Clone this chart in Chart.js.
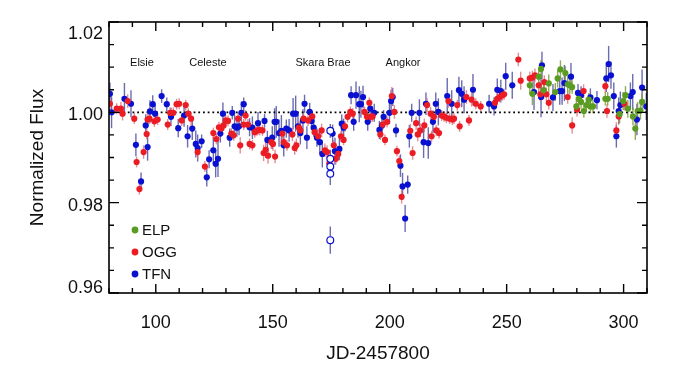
<!DOCTYPE html>
<html>
<head>
<meta charset="utf-8">
<script src="https://cdn.jsdelivr.net/npm/chart.js@4.4.1/dist/chart.umd.min.js"></script>
<style>
  html, body { margin: 0; padding: 0; background: #fff; }
  #wrap { width: 700px; height: 379px; }
</style>
</head>
<body>
<div id="wrap"><canvas id="chart" width="700" height="379"></canvas></div>
<script>
// each point: [JD-2457800, normalized flux, 1-sigma error]
const tfnPoints = [
  [80.4,1.0041,0.0025],[81.1,1.0000,0.0035],[86.6,1.0030,0.0035],[89.4,1.0019,0.003],[91.5,0.9928,0.0025],
  [93.7,0.9847,0.002],[95.7,0.9971,0.0025],[96.5,0.9923,0.003],[97.5,1.0002,0.0025],[98.7,1.0018,0.002],
  [99.7,0.9997,0.002],[102.5,1.0036,0.0015],[104.7,1.0018,0.0015],[106.5,0.9990,0.002],[109.6,0.9965,0.002],
  [112.1,0.9993,0.0025],[113.6,0.9947,0.0025],[115.6,0.9964,0.0025],[117.1,0.9930,0.003],[117.9,0.9921,0.003],
  [119.6,0.9936,0.0015],[121.8,0.9856,0.002],[122.8,0.9896,0.002],[124.6,0.9916,0.003],[125.6,0.9886,0.003],
  [126.6,0.9897,0.004],[127.6,0.9953,0.002],[128.7,0.9997,0.0025],[131.6,0.9944,0.002],[132.7,0.9999,0.0015],
  [133.7,0.9969,0.0025],[134.7,0.9966,0.002],[135.6,0.9969,0.002],[136.6,0.9999,0.0025],[137.6,1.0018,0.0015],
  [140.1,0.9967,0.002],[141.3,0.9966,0.0025],[143.7,0.9976,0.0025],[146.5,0.9981,0.0015],[147.7,0.9939,0.002],
  [149.8,0.9944,0.0025],[150.8,0.9979,0.003],[151.5,0.9979,0.0035],[152.7,0.9954,0.003],[153.7,0.9959,0.0035],
  [154.7,0.9927,0.0025],[155.8,0.9964,0.002],[157.0,0.9960,0.0025],[158.7,0.9997,0.0035],[159.8,0.9997,0.004],
  [160.8,0.9969,0.0025],[161.8,0.9954,0.0025],[162.9,0.9982,0.0025],[163.6,1.0019,0.002],[164.6,0.9944,0.0025],
  [165.8,1.0001,0.002],[166.6,0.9981,0.0015],[167.5,0.9966,0.002],[168.9,0.9944,0.002],[170.1,0.9934,0.0025],
  [171.2,0.9908,0.003],[175.6,0.9953,0.002],[176.6,0.9914,0.003],[178.5,0.9919,0.0025],[179.5,0.9975,0.002],
  [180.3,0.9966,0.002],[183.5,1.0038,0.002],[184.6,0.9979,0.002],[185.6,1.0038,0.003],[187.0,1.0018,0.004],
  [187.7,1.0018,0.003],[188.6,1.0034,0.0025],[190.6,0.9979,0.002],[191.7,1.0008,0.002],[193.4,0.9999,0.002],
  [195.6,0.9961,0.002],[196.7,0.9971,0.0015],[197.4,0.9990,0.0015],[199.9,0.9999,0.0025],[200.6,1.0025,0.0025],
  [201.3,1.0034,0.002],[202.7,0.9960,0.0015],[204.6,0.9882,0.0025],[205.5,0.9836,0.003],[206.6,0.9765,0.003],
  [207.7,0.9840,0.002],[208.4,0.9947,0.0025],[209.4,0.9999,0.002],[212.7,0.9999,0.003],[214.5,0.9934,0.0035],
  [215.5,1.0019,0.0025],[216.5,0.9932,0.0035],[218.5,0.9979,0.0025],[219.7,1.0019,0.0025],[220.8,1.0001,0.003],
  [224.6,1.0036,0.004],[226.5,1.0019,0.003],[229.6,1.0049,0.003],[230.8,1.0041,0.003],[231.8,1.0028,0.003],
  [235.6,1.0050,0.0035],[242.5,1.0019,0.002],[244.6,1.0013,0.002],[246.0,1.0050,0.0025],[247.5,1.0047,0.0025],
  [249.6,1.0080,0.003],[252.4,1.0060,0.003],[261.7,1.0045,0.004],[264.7,1.0034,0.0045],[265.1,1.0104,0.003],
  [269.8,1.0033,0.003],[272.7,1.0047,0.003],[273.7,1.0047,0.003],[274.7,1.0065,0.004],[277.5,1.0079,0.003],
  [280.5,1.0043,0.002],[281.8,1.0038,0.002],[285.8,1.0033,0.002],[288.6,1.0027,0.002],[292.6,1.0075,0.003],
  [293.6,1.0107,0.004],[294.6,1.0082,0.003],[295.8,1.0036,0.003],[296.9,0.9947,0.0025],[297.9,1.0003,0.003],
  [298.6,1.0016,0.003],[302.9,1.0036,0.003],[303.9,1.0045,0.004],[305.7,0.9984,0.0035],[307.9,1.0055,0.004],
  [309.7,1.0013,0.003]
];

// TFN points drawn as open circles (Skara Brae dip)
const tfnOpenPoints = [
  [174.6,0.9959,0.0015],[174.6,0.9897,0.002],[174.6,0.9880,0.002],[174.6,0.9864,0.0025],[174.6,0.9717,0.003]
];

const oggPoints = [
  [80.4,1.0019,0.0015],[83.3,1.0008,0.0012],[85.1,1.0008,0.0015],[85.8,0.9997,0.0015],[88.0,1.0025,0.0015],
  [90.8,0.9986,0.0012],[91.8,0.9890,0.0012],[93.0,0.9830,0.0012],[94.8,0.9912,0.0015],[96.1,0.9952,0.0012],
  [96.5,0.9984,0.0012],[97.3,0.9986,0.0012],[99.4,0.9980,0.0012],[100.8,0.9984,0.0012],[105.1,0.9973,0.0012],
  [106.1,0.9999,0.0012],[107.5,0.9999,0.0012],[108.9,1.0018,0.0012],[110.0,1.0019,0.0012],[111.1,0.9982,0.0012],
  [112.8,1.0016,0.0012],[113.9,0.9997,0.0012],[115.1,0.9986,0.0015],[117.9,0.9912,0.0015],[121.0,0.9880,0.0012],
  [124.6,0.9954,0.0012],[125.9,0.9941,0.0012],[127.0,0.9967,0.0012],[128.0,0.9964,0.0012],[129.0,0.9971,0.0012],
  [129.9,0.9982,0.0012],[130.9,0.9981,0.0012],[132.3,0.9953,0.0012],[133.3,0.9949,0.0012],[135.2,0.9986,0.0012],
  [136.1,0.9927,0.0018],[137.6,0.9973,0.0012],[138.4,0.9993,0.0012],[139.4,0.9973,0.0012],[140.1,0.9930,0.0012],
  [141.3,0.9927,0.0012],[142.3,0.9956,0.0012],[143.3,0.9960,0.0012],[144.4,0.9961,0.0012],[145.6,0.9960,0.0012],
  [146.1,0.9910,0.0018],[147.0,0.9917,0.0018],[148.0,0.9904,0.0018],[149.4,0.9934,0.0015],[150.1,0.9930,0.0015],
  [151.0,0.9902,0.0015],[154.1,0.9953,0.0012],[154.7,0.9934,0.0012],[156.1,0.9927,0.0012],[158.4,0.9951,0.0015],
  [159.4,0.9921,0.0015],[160.1,0.9927,0.0015],[161.2,0.9966,0.0015],[161.8,0.9960,0.0015],[163.2,0.9986,0.0012],
  [165.1,0.9982,0.0012],[166.9,0.9991,0.0012],[167.9,0.9956,0.0012],[169.4,0.9947,0.0012],[170.9,0.9960,0.0015],
  [172.3,0.9916,0.0015],[173.2,0.9912,0.0015],[174.2,0.9887,0.0015],[176.1,0.9927,0.0012],[177.0,0.9897,0.0012],
  [178.0,0.9908,0.0012],[179.2,0.9947,0.0012],[180.3,0.9939,0.0012],[180.9,0.9969,0.0012],[182.0,0.9990,0.0012],
  [183.2,1.0001,0.0012],[184.2,0.9997,0.0012],[189.2,1.0001,0.0012],[190.3,0.9990,0.0012],[191.3,1.0021,0.0012],
  [192.0,0.9990,0.0012],[192.7,0.9991,0.0012],[196.0,0.9951,0.0012],[197.0,0.9973,0.0012],[198.0,0.9939,0.0012],
  [198.9,0.9979,0.0012],[200.9,1.0036,0.002],[202.0,1.0001,0.0015],[203.1,0.9914,0.0012],[204.1,0.9892,0.0012],
  [205.1,0.9813,0.0015],[208.8,0.9959,0.0015],[209.8,0.9910,0.0015],[211.3,0.9976,0.0015],[212.0,0.9951,0.0015],
  [213.1,0.9960,0.0015],[214.8,0.9971,0.0015],[216.0,1.0016,0.0015],[217.5,0.9997,0.0015],[217.9,0.9947,0.0012],
  [218.9,0.9990,0.0012],[219.9,0.9960,0.0012],[221.1,0.9954,0.0012],[222.2,0.9993,0.0012],[223.2,0.9991,0.0012],
  [224.2,0.9988,0.0012],[225.1,1.0025,0.0015],[225.6,0.9986,0.0012],[226.8,0.9984,0.0012],[227.5,0.9986,0.0012],
  [228.9,1.0016,0.0012],[229.9,0.9969,0.0012],[232.8,1.0034,0.0015],[233.9,0.9982,0.0012],[235.0,1.0028,0.0015],
  [236.8,1.0019,0.0012],[238.9,1.0013,0.0012],[245.0,1.0021,0.0012],[246.0,1.0030,0.0012],[247.0,1.0034,0.0012],
  [248.2,1.0038,0.0012],[248.9,1.0040,0.0012],[255.0,1.0117,0.0015],[256.0,1.0070,0.002],[259.9,1.0075,0.0015],
  [261.0,1.0077,0.0015],[262.1,1.0082,0.0015],[263.7,1.0060,0.0015],[264.4,1.0040,0.0015],[266.1,1.0067,0.0015],
  [267.0,1.0040,0.0015],[268.0,1.0021,0.0015],[276.1,1.0034,0.0015],[278.0,0.9971,0.0018],[280.1,1.0006,0.0015],
  [282.9,1.0047,0.0015],[292.2,1.0058,0.0015],[292.9,1.0003,0.0015],[296.9,0.9960,0.0018],[297.9,0.9991,0.0015],
  [300.3,1.0019,0.0015]
];

const elpPoints = [
  [259.9,1.0060,0.002],[261.0,1.0041,0.0025],[263.7,1.0079,0.002],[264.7,1.0096,0.002],[265.8,1.0049,0.002],
  [268.0,1.0064,0.002],[270.8,1.0045,0.002],[271.8,1.0075,0.002],[273.0,1.0095,0.002],[275.1,1.0087,0.0015],
  [276.1,1.0062,0.002],[277.0,1.0060,0.002],[278.0,1.0056,0.0015],[279.8,1.0013,0.0015],[280.8,1.0030,0.0015],
  [281.8,1.0023,0.0015],[283.0,1.0003,0.0015],[284.1,1.0016,0.0015],[285.1,1.0028,0.0015],[285.8,1.0013,0.0015],
  [286.9,1.0013,0.0015],[292.2,1.0030,0.0015],[293.2,1.0030,0.0015],[298.3,0.9996,0.002],[299.8,1.0025,0.002],
  [300.8,1.0038,0.002],[301.8,1.0008,0.002],[304.0,0.9991,0.002],[305.0,0.9964,0.0025],[306.0,1.0003,0.002],
  [307.2,1.0004,0.002],[307.9,1.0023,0.002]
];

const siteNames = ['ELP', 'OGG', 'TFN'];
const siteColors = ['#5a9c22', '#ec1c24', '#0a10d0'];
const barColors = ['rgba(130,155,60,0.85)', 'rgba(225,110,120,0.8)', 'rgba(70,70,160,0.8)'];

const dipNames = ['Elsie', 'Celeste', 'Skara Brae', 'Angkor'];
const dipX = [94.1, 122.3, 171.5, 205.7];

const xMin = 80, xMax = 310, xStep = 10, xLabelEvery = 50;
const yMin = 0.96, yMax = 1.02, yStep = 0.005;
const baselineFlux = 1.0;

const FONT = '"Liberation Sans", Arial, Helvetica, sans-serif';
const TEXT = '#111';

const toXY = pts => pts.map(p => ({ x: p[0], y: p[1], err: p[2] }));
const isMajorY = v => Math.round(v * 1000) % 20 === 0;

// vertical error bars, under every marker
const errorBarPlugin = {
  id: 'errorBars',
  beforeDatasetsDraw(chart) {
    const ctx = chart.ctx;
    const ys = chart.scales.y;
    const a = chart.chartArea;
    ctx.save();
    ctx.beginPath();
    ctx.rect(a.left, a.top, a.right - a.left, a.bottom - a.top);
    ctx.clip();
    ctx.lineWidth = 1.4;
    chart.data.datasets.forEach((ds, i) => {
      if (!ds.barColor) return;
      const meta = chart.getDatasetMeta(i);
      ctx.strokeStyle = ds.barColor;
      meta.data.forEach((el, j) => {
        const d = ds.data[j];
        ctx.beginPath();
        ctx.moveTo(el.x, ys.getPixelForValue(d.y + d.err));
        ctx.lineTo(el.x, ys.getPixelForValue(d.y - d.err));
        ctx.stroke();
      });
    });
    ctx.restore();
  }
};

// box with inward ticks on all four sides, y labels kept inside the box height,
// dip names and the legend
const framePlugin = {
  id: 'frame',
  afterDraw(chart) {
    const ctx = chart.ctx;
    const a = chart.chartArea;
    const xs = chart.scales.x, ys = chart.scales.y;
    ctx.save();
    ctx.strokeStyle = '#000';
    ctx.lineWidth = 1.6;
    ctx.strokeRect(a.left, a.top, a.right - a.left, a.bottom - a.top);
    ctx.lineWidth = 1.4;
    ctx.beginPath();
    xs.ticks.forEach(t => {
      const px = xs.getPixelForValue(t.value);
      const len = Math.round(t.value) % xLabelEvery === 0 ? 9 : 5;
      ctx.moveTo(px, a.bottom); ctx.lineTo(px, a.bottom - len);
      ctx.moveTo(px, a.top); ctx.lineTo(px, a.top + len);
    });
    ys.ticks.forEach(t => {
      const py = ys.getPixelForValue(t.value);
      const len = isMajorY(t.value) ? 10 : 5;
      ctx.moveTo(a.left, py); ctx.lineTo(a.left + len, py);
      ctx.moveTo(a.right, py); ctx.lineTo(a.right - len, py);
    });
    ctx.stroke();

    // y tick labels
    ctx.fillStyle = TEXT;
    ctx.font = '18px ' + FONT;
    ctx.textAlign = 'right';
    ctx.textBaseline = 'middle';
    ys.ticks.forEach(t => {
      if (!isMajorY(t.value)) return;
      const py = Math.min(Math.max(ys.getPixelForValue(t.value) + 3, a.top + 12), a.bottom - 5);
      ctx.fillText(t.value.toFixed(2), a.left - 6, py);
    });

    // dip names
    ctx.font = '11px ' + FONT;
    ctx.textAlign = 'center';
    const labelY = ys.getPixelForValue(1.011);
    dipNames.forEach((n, i) => ctx.fillText(n, xs.getPixelForValue(dipX[i]), labelY));

    // legend, lower left
    ctx.font = '15px ' + FONT;
    ctx.textAlign = 'left';
    siteNames.forEach((n, i) => {
      const cy = 230 + i * 22;
      ctx.fillStyle = siteColors[i];
      ctx.beginPath();
      ctx.arc(135, cy, 3.4, 0, Math.PI * 2);
      ctx.fill();
      ctx.fillStyle = TEXT;
      ctx.fillText(n, 142, cy + 1);
    });
    ctx.restore();
  }
};

const pointStyle = (i) => ({
  backgroundColor: siteColors[i],
  borderColor: siteColors[i],
  barColor: barColors[i],
  pointRadius: 3.1,
  pointBorderWidth: 0,
  showLine: false
});

new Chart(document.getElementById('chart'), {
  type: 'scatter',
  data: {
    datasets: [
      { label: 'baseline', type: 'line',
        data: [{ x: xMin, y: baselineFlux }, { x: xMax, y: baselineFlux }],
        borderColor: '#000', borderWidth: 1.8, borderDash: [1.8, 2.9],
        pointRadius: 0, order: 9 },
      Object.assign({ label: 'TFN', data: toXY(tfnPoints), order: 4 }, pointStyle(2)),
      Object.assign({ label: 'OGG', data: toXY(oggPoints), order: 3 }, pointStyle(1)),
      Object.assign({ label: 'ELP', data: toXY(elpPoints), order: 2 }, pointStyle(0)),
      { label: 'TFN open', data: toXY(tfnOpenPoints), order: 1,
        backgroundColor: '#fff', borderColor: siteColors[2], barColor: barColors[2],
        pointRadius: 3.4, pointBorderWidth: 1.2, showLine: false }
    ]
  },
  options: {
    responsive: false,
    animation: false,
    devicePixelRatio: 1,
    layout: { padding: { top: 22, right: 53, left: 0, bottom: 0 } },
    plugins: { legend: { display: false }, tooltip: { enabled: false } },
    scales: {
      x: {
        type: 'linear', min: xMin, max: xMax,
        grid: { display: false, drawTicks: false },
        border: { display: false },
        ticks: {
          stepSize: xStep, autoSkip: false, maxRotation: 0, padding: 19,
          color: TEXT, font: { family: FONT, size: 18 },
          callback: v => (Math.round(v) % xLabelEvery === 0 ? String(Math.round(v)) : '')
        },
        title: { display: true, text: 'JD-2457800', color: TEXT,
                 font: { family: FONT, size: 19 }, padding: { top: 0, bottom: 14 } },
        afterFit: s => { s.height = 86; }
      },
      y: {
        min: yMin, max: yMax,
        grid: { display: false, drawTicks: false },
        border: { display: false },
        ticks: {
          stepSize: yStep, autoSkip: false, padding: 6,
          color: TEXT, font: { family: FONT, size: 18 },
          callback: () => ''
        },
        title: { display: true, text: 'Normalized Flux', color: TEXT,
                 font: { family: FONT, size: 19 }, padding: { top: 26, bottom: 0 } },
        afterFit: s => { s.width = 109; }
      }
    }
  },
  plugins: [errorBarPlugin, framePlugin]
});
</script>
</body>
</html>
